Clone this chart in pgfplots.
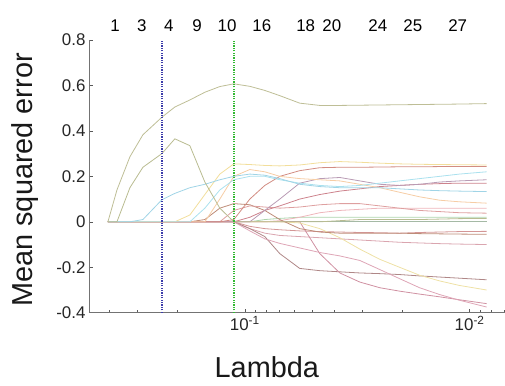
\documentclass[border=0pt]{standalone}
\usepackage{pgfplots}
\pgfplotsset{compat=1.18}
\usepackage{pgfplotstable}
\usepackage{fontspec}
\setmainfont{Liberation Sans}

\definecolor{colA}{RGB}{190,190,150}
\definecolor{colB}{RGB}{185,188,145}
\definecolor{colC}{RGB}{160,212,230}
\definecolor{colCC}{RGB}{170,225,238}
\definecolor{colH}{RGB}{242,222,155}
\definecolor{colO}{RGB}{246,205,165}
\definecolor{colI}{RGB}{210,140,130}
\definecolor{colP}{RGB}{185,155,180}
\definecolor{colBR}{RGB}{190,140,120}
\definecolor{colRB}{RGB}{222,160,160}
\definecolor{colRC}{RGB}{205,130,140}
\definecolor{colG}{RGB}{172,212,172}
\definecolor{colPK}{RGB}{238,182,187}
\definecolor{colNA}{RGB}{212,150,150}
\definecolor{colNB}{RGB}{218,165,175}
\definecolor{colE}{RGB}{175,135,135}
\definecolor{colF}{RGB}{208,145,162}
\definecolor{colGG}{RGB}{222,165,182}
\definecolor{colY}{RGB}{238,225,165}
\definecolor{colZ}{RGB}{165,185,165}
\definecolor{vblue}{RGB}{60,60,170}
\definecolor{vgreen}{RGB}{50,185,50}

\pgfplotstableread{
lam A B C C2 H O1 I P1 BR1 R2 R3 G1 PK N1 N2 E F G Y2 Z
0.4064 0 0 0 0 0 0 0 0 0 0 0 0 0 0 0 0 0 0 0 0
0.3706 0.14 0 0 0 0 0 0 0 0 0 0 0 0 0 0 0 0 0 0 0
0.3245 0.286 0.15 0 0 0 0 0 0 0 0 0 0 0 0 0 0 0 0 0 0
0.2840 0.383 0.24 0.01 0 0 0 0 0 0 0 0 0 0 0 0 0 0 0 0 0
0.2339 0.46 0.30 0.097 0 0 0 0 0 0 0 0 0 0 0 0 0 0 0 0 0
0.2048 0.505 0.365 0.125 0 0 0 0 0 0 0 0 0 0 0 0 0 0 0 0 0
0.1756 0.536 0.335 0.15 0 0.03 0 0 0 0 0 0 0 0 0 0 0 0 0 0 0
0.1506 0.57 0.175 0.165 0.06 0.12 0 0 0 0.01 0 0 0 0 0 0 0 0 0 0 0
0.1292 0.595 0.06 0.185 0.14 0.21 0.1 0 0 0.06 0 0 0 0 0 0 0 0 0 0 0
0.1119 0.607 0 0.2 0.185 0.255 0.2 0.01 0 0.08 0.05 0 0 0 0 0 0 0 0 0 0
0.0950 0.596 0 0.21 0.2 0.252 0.23 0.1 0 0.075 0.07 0.02 0 0 -0.02 -0.03 -0.03 0 -0.04 0 0
0.0815 0.578 0 0.205 0.2 0.248 0.22 0.16 0.05 0.05 0.065 0.05 0.01 0 -0.03 -0.05 -0.065 0 -0.075 0 0
0.0699 0.555 0 0.19 0.185 0.246 0.2 0.2 0.1 0.01 0.06 0.07 0.015 0.005 -0.035 -0.06 -0.14 0 -0.095 0 0
0.0570 0.522 0 0.165 0.17 0.25 0.19 0.225 0.17 -0.03 0.065 0.1 0.02 0.02 -0.04 -0.065 -0.205 0 -0.115 -0.005 0
0.0464 0.512 0 0.155 0.16 0.26 0.185 0.238 0.19 -0.045 0.075 0.12 0.02 0.04 -0.043 -0.07 -0.215 -0.14 -0.135 -0.03 0
0.0378 0.512 0.005 0.15 0.155 0.265 0.18 0.24 0.195 -0.05 0.08 0.135 0.02 0.05 -0.045 -0.075 -0.22 -0.225 -0.15 -0.07 0
0.0308 0.513 0.01 0.15 0.16 0.262 0.165 0.24 0.18 -0.05 0.08 0.145 0.02 0.055 -0.047 -0.08 -0.225 -0.265 -0.17 -0.12 0
0.0251 0.514 0.01 0.15 0.17 0.258 0.15 0.241 0.165 -0.05 0.07 0.155 0.02 0.06 -0.048 -0.085 -0.228 -0.29 -0.21 -0.165 0
0.0205 0.515 0.01 0.145 0.18 0.255 0.13 0.242 0.16 -0.05 0.06 0.16 0.02 0.06 -0.05 -0.09 -0.232 -0.305 -0.25 -0.2 0
0.0167 0.516 0.01 0.14 0.19 0.253 0.11 0.242 0.165 -0.052 0.05 0.165 0.02 0.06 -0.047 -0.093 -0.238 -0.318 -0.29 -0.235 0
0.0136 0.517 0.012 0.137 0.2 0.252 0.095 0.243 0.175 -0.053 0.045 0.168 0.02 0.06 -0.045 -0.096 -0.243 -0.33 -0.32 -0.26 0
0.0111 0.518 0.014 0.135 0.21 0.251 0.088 0.243 0.18 -0.054 0.04 0.17 0.02 0.06 -0.043 -0.098 -0.248 -0.343 -0.345 -0.28 0
0.0084 0.52 0.015 0.133 0.22 0.25 0.082 0.243 0.185 -0.055 0.038 0.17 0.02 0.06 -0.042 -0.1 -0.255 -0.36 -0.375 -0.3 0
}\paths

\begin{document}
\begin{tikzpicture}
\begin{axis}[
  scale only axis, width=416bp, height=273bp,
  xmode=log, x dir=reverse, xmin=0.00699, xmax=0.4936,
  ymin=-0.4, ymax=0.8,
  axis x line*=bottom, axis y line*=left,
  axis line style={-, black!55, line width=0.8bp},
  tick align=inside,
  xtick={0.1,0.01}, xticklabels={10\textsuperscript{-1},10\textsuperscript{-2}},
  minor xtick={0.007,0.008,0.009,0.02,0.03,0.04,0.05,0.06,0.07,0.08,0.09,0.2,0.3,0.4},
  ytick={-0.4,-0.2,0,0.2,0.4,0.6,0.8},
  yticklabels={-0.4,-0.2,0,0.2,0.4,0.6,0.8},
  minor y tick num=0,
  major tick length=4bp, minor tick length=3bp,
  tick style={black!65, line width=0.6bp},
  ticklabel style={font=\fontsize{17}{20}\selectfont, text=black!85},
  clip=false,
  xlabel={Lambda}, ylabel={Mean squared error},
  label style={font=\fontsize{29}{34}\selectfont, text=black!90},
  xlabel style={at={(rel axis cs:0.428,-0.236)}, anchor=base},
  ylabel style={at={(rel axis cs:-0.137,0.487)}, anchor=base},
  every axis plot/.append style={line width=0.8bp},
]
\path (rel axis cs:-0.214,-0.267) rectangle (rel axis cs:1,1.1465);

\addplot[colZ] table[x=lam,y=Z]{\paths};
\addplot[colG] table[x=lam,y=G1]{\paths};
\addplot[colPK] table[x=lam,y=PK]{\paths};
\addplot[colNA] table[x=lam,y=N1]{\paths};
\addplot[colNB] table[x=lam,y=N2]{\paths};
\addplot[colE] table[x=lam,y=E]{\paths};
\addplot[colF] table[x=lam,y=F]{\paths};
\addplot[colGG] table[x=lam,y=G]{\paths};
\addplot[colY] table[x=lam,y=Y2]{\paths};
\addplot[colBR] table[x=lam,y=BR1]{\paths};
\addplot[colRB] table[x=lam,y=R2]{\paths};
\addplot[colRC] table[x=lam,y=R3]{\paths};
\addplot[colP] table[x=lam,y=P1]{\paths};
\addplot[colI] table[x=lam,y=I]{\paths};
\addplot[colO] table[x=lam,y=O1]{\paths};
\addplot[colH] table[x=lam,y=H]{\paths};
\addplot[colCC] table[x=lam,y=C2]{\paths};
\addplot[colC] table[x=lam,y=C]{\paths};
\addplot[colB] table[x=lam,y=B]{\paths};
\addplot[colA] table[x=lam,y=A]{\paths};

\addplot[vblue, line width=1.8bp, dash pattern=on 1.2bp off 1.2bp] coordinates {(0.2339,-0.4) (0.2339,0.8)};
\addplot[vgreen, line width=1.8bp, dash pattern=on 1.2bp off 1.2bp] coordinates {(0.1119,-0.4) (0.1119,0.8)};

\begin{scope}[every node/.style={font=\fontsize{17}{20}\selectfont, anchor=base, yshift=8bp, inner sep=0pt}]
\node at (axis cs:0.378,0.8) {1};
\node at (axis cs:0.287,0.8) {3};
\node at (axis cs:0.218,0.8) {4};
\node at (axis cs:0.163,0.8) {9};
\node at (axis cs:0.120,0.8) {10};
\node at (axis cs:0.0840,0.8) {16};
\node at (axis cs:0.0536,0.8) {18};
\node at (axis cs:0.0410,0.8) {20};
\node at (axis cs:0.0256,0.8) {24};
\node at (axis cs:0.0179,0.8) {25};
\node at (axis cs:0.0113,0.8) {27};
\end{scope}
\end{axis}
\end{tikzpicture}
\end{document}
